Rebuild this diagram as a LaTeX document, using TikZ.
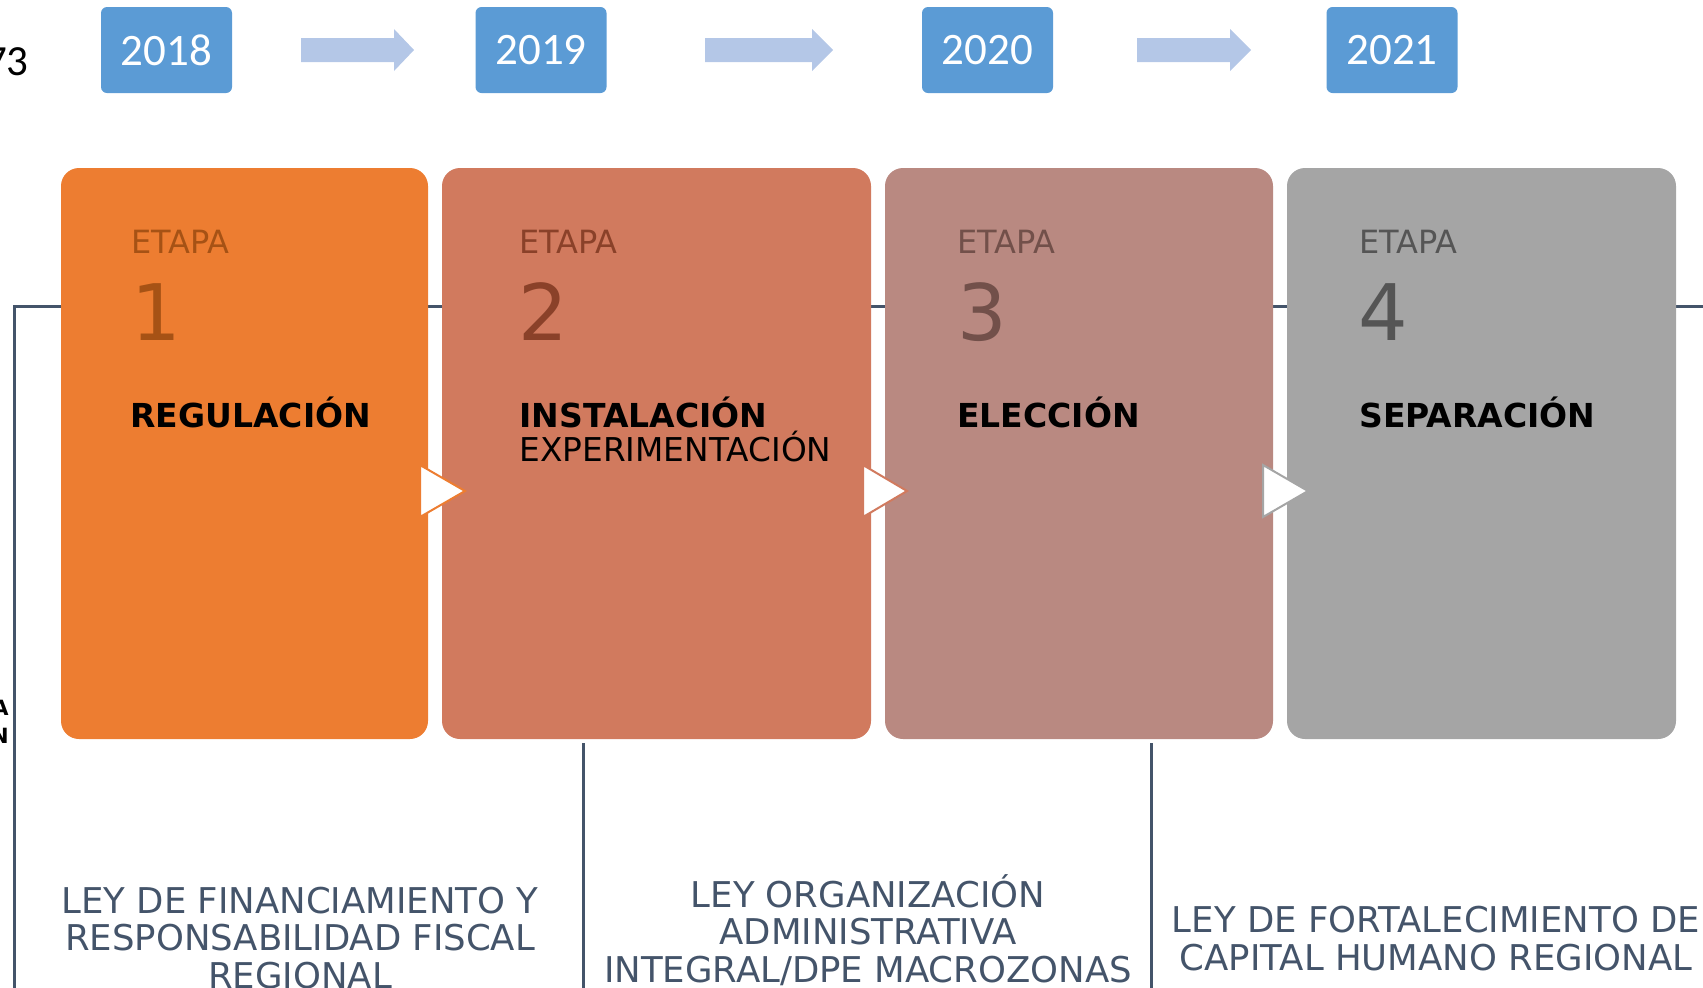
\documentclass[tikz,border=0pt]{standalone}
\usepackage{fontspec}
\setmainfont{DejaVu Sans}
\newfontfamily\yearfont{Carlito}
\definecolor{yearblue}{HTML}{5B9BD5}
\definecolor{arrowblue}{HTML}{B4C7E7}
\definecolor{slate}{HTML}{44546A}
\definecolor{stA}{HTML}{ED7D31}
\definecolor{stB}{HTML}{D17A5E}
\definecolor{stC}{HTML}{B98981}
\definecolor{stD}{HTML}{A5A5A5}
\definecolor{txA}{HTML}{A65215}
\definecolor{txB}{HTML}{8A4129}
\definecolor{txC}{HTML}{72504A}
\definecolor{txD}{HTML}{555555}
\begin{document}
\begin{tikzpicture}[x=0.5pt,y=-0.5pt,
  yearbox/.style={fill=yearblue, rounded corners=3pt, minimum width=65.5pt, minimum height=43pt, inner sep=0, text=white, font=\yearfont\fontsize{22.5}{27}\selectfont},
  stagebox/.style={rounded corners=9pt, minimum height=285.5pt, inner sep=0},
  etapa/.style={anchor=base west, inner sep=0, font=\fontsize{16}{19}\selectfont},
  stagenum/.style={anchor=base west, inner sep=0, font=\fontsize{39}{45}\selectfont},
  stagetitle/.style={anchor=base west, inner sep=0, font=\bfseries\fontsize{16.5}{19}\selectfont},
  stagesub/.style={anchor=base west, inner sep=0, font=\fontsize{16.4}{19}\selectfont},
  lawtext/.style={align=center, inner sep=0, text=slate, font=\fontsize{17.75}{18.75}\selectfont},
  timeline/.style={draw=slate, line width=1.5pt},
  yeararrow/.style={fill=arrowblue},
  pointer/.style={fill=white, line width=1pt, line join=miter}
]
\useasboundingbox (0,0) rectangle (1703,987);

% timeline lines
\coordinate (hl) at (14,306);
\coordinate (hr) at (1720,306);
\coordinate (vb) at (14,1000);
\draw[timeline] (hr) -- (hl) -- (vb);
\coordinate (v2t) at (583,743);
\coordinate (v2b) at (583,1000);
\coordinate (v3t) at (1151,743);
\coordinate (v3b) at (1151,1000);
\draw[timeline] (v2t) -- (v2b);
\draw[timeline] (v3t) -- (v3b);

% cut-off left texts
\node[anchor=base east, inner sep=0, font=\yearfont\fontsize{21.5}{25}\selectfont] (t73) at (29,75) {73};
\node[anchor=base east, inner sep=0, font=\bfseries\fontsize{10.5}{12}\selectfont] (tA) at (9,715) {A};
\node[anchor=base east, inner sep=0, font=\bfseries\fontsize{10.5}{12}\selectfont] (tN) at (9,743) {N};

% years
\node[yearbox] (y1) at (166.5,50) {2018};
\node[yearbox] (y2) at (541,50) {2019};
\node[yearbox] (y3) at (987.5,50) {2020};
\node[yearbox] (y4) at (1392,50) {2021};

% block arrows between years
\fill[yeararrow] (301,38) -- (394,38) -- (394,29) -- (414,50) -- (394,71) -- (394,62) -- (301,62) -- cycle;
\fill[yeararrow] (705,38) -- (812,38) -- (812,29) -- (833,50) -- (812,71) -- (812,62) -- (705,62) -- cycle;
\fill[yeararrow] (1137,38) -- (1230,38) -- (1230,29) -- (1251,50) -- (1230,71) -- (1230,62) -- (1137,62) -- cycle;

% stage boxes
\node[stagebox, fill=stA, minimum width=183.5pt] (s1) at (244.5,453.5) {};
\node[stagebox, fill=stB, minimum width=214.5pt] (s2) at (656.5,453.5) {};
\node[stagebox, fill=stC, minimum width=194pt] (s3) at (1079,453.5) {};
\node[stagebox, fill=stD, minimum width=194.5pt] (s4) at (1481.5,453.5) {};

% stage texts
\node[etapa, text=txA] (e1) at (131,253) {ETAPA};
\node[stagenum, text=txA] (n1) at (131,340) {1};
\node[stagetitle] (r1) at (130,427) {REGULACIÓN};

\node[etapa, text=txB] (e2) at (519,253) {ETAPA};
\node[stagenum, text=txB] (n2) at (518,340) {2};
\node[stagetitle] (r2) at (519,427) {INSTALACIÓN};
\node[stagesub] (r2b) at (519,461) {EXPERIMENTACIÓN};

\node[etapa, text=txC] (e3) at (957,253) {ETAPA};
\node[stagenum, text=txC] (n3) at (957,340) {3};
\node[stagetitle] (r3) at (957,427) {ELECCIÓN};

\node[etapa, text=txD] (e4) at (1359,253) {ETAPA};
\node[stagenum, text=txD] (n4) at (1358,340) {4};
\node[stagetitle] (r4) at (1359,427) {SEPARACIÓN};

% white pointers between stages
\draw[pointer, draw=stA] (420,465) -- (465,491) -- (420,517) -- cycle;
\draw[pointer, draw=stB] (863,465) -- (907,491) -- (863,517) -- cycle;
\draw[pointer, draw=stD] (1263,465) -- (1308,491) -- (1263,517) -- cycle;

% law texts (base anchor = last line baseline)
\node[lawtext, anchor=base] (l1) at (300,988) {LEY DE FINANCIAMIENTO Y\\RESPONSABILIDAD FISCAL\\REGIONAL};
\node[lawtext, anchor=base] (l2) at (868,982) {LEY ORGANIZACIÓN\\ADMINISTRATIVA\\INTEGRAL/DPE MACROZONAS};
\node[lawtext, anchor=base] (l3) at (1436,970) {LEY DE FORTALECIMIENTO DE\\CAPITAL HUMANO REGIONAL};
\end{tikzpicture}
\end{document}
